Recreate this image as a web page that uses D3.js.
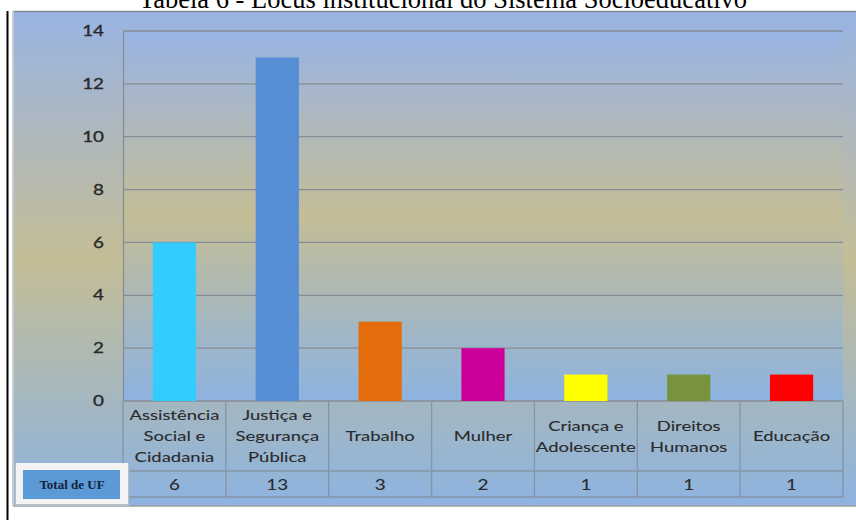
<!DOCTYPE html>
<html><head><meta charset="utf-8">
<script src="https://cdn.jsdelivr.net/npm/d3@7"></script>
<style>body{margin:0;background:#fff;}svg{display:block;}</style>
</head><body>
<script>
const title = "Tabela 6 - Locus institucional do Sistema Socioeducativo";
const categories = ["Assistência Social e Cidadania","Justiça e Segurança Pública","Trabalho","Mulher","Criança e Adolescente","Direitos Humanos","Educação"];
const labelLines = [["Assistência","Social e","Cidadania"],["Justiça e","Segurança","Pública"],["Trabalho"],["Mulher"],["Criança e","Adolescente"],["Direitos","Humanos"],["Educação"]];
const values = [6,13,3,2,1,1,1];
const colors = ["#33ccff","#558ed5","#e46c0a","#cc0099","#ffff00","#77933c","#ff0000"];
const yTicks = [0,2,4,6,8,10,12,14];
const rowLabel = "Total de UF";

(function(){
const W=856,H=520;
const svg=d3.select("body").append("svg").attr("width",W).attr("height",H);
const defs=svg.append("defs");
function grad(id){
  const g=defs.append("linearGradient").attr("id",id).attr("x1",0).attr("y1",0).attr("x2",0).attr("y2",1);
  g.append("stop").attr("offset","0%").attr("stop-color","#99b4e3");
  g.append("stop").attr("offset","50%").attr("stop-color","#c4bd96");
  g.append("stop").attr("offset","100%").attr("stop-color","#8db3e0");
}
grad("gOuter");grad("gPlot");

svg.append("text").attr("x",443).attr("y",8).attr("text-anchor","middle")
  .attr("font-family","Liberation Serif, Times New Roman, serif").attr("font-size",26.5).attr("fill","#000").text(title);

svg.append("line").attr("x1",7.5).attr("x2",7.5).attr("y1",11).attr("y2",520).attr("stroke","#000").attr("stroke-width",2);
svg.append("rect").attr("x",13).attr("y",11).attr("width",850).attr("height",495).attr("fill","url(#gOuter)");
svg.append("line").attr("x1",13).attr("x2",856).attr("y1",11.5).attr("y2",11.5).attr("stroke","#7f8790").attr("stroke-width",1.5);
svg.append("line").attr("x1",13).attr("x2",856).attr("y1",506).attr("y2",506).attr("stroke","#9a9ea4").attr("stroke-width",1.5);
svg.append("line").attr("x1",13).attr("x2",13).attr("y1",11).attr("y2",506).attr("stroke","#c8ccd2").attr("stroke-width",2);

const pL=123,pR=843,pT=31,pB=401;
const x=d3.scaleBand().domain(categories).range([pL,pR]).paddingInner(0).paddingOuter(0);
const y=d3.scaleLinear().domain([0,14]).range([pB,pT]);

svg.append("rect").attr("x",pL).attr("y",pT).attr("width",pR-pL).attr("height",pB-pT).attr("fill","url(#gPlot)");

svg.append("g").selectAll("line").data(yTicks).join("line")
  .attr("x1",pL).attr("x2",pR).attr("y1",d=>y(d)).attr("y2",d=>y(d))
  .attr("stroke","#878d95").attr("stroke-width",1.3);

const bw=x.bandwidth()*0.42;
svg.append("g").selectAll("rect").data(values).join("rect")
  .attr("x",(d,i)=>x(categories[i])+(x.bandwidth()-bw)/2)
  .attr("y",d=>y(d)).attr("width",bw).attr("height",d=>pB-y(d))
  .attr("fill",(d,i)=>colors[i]);

const font="Lato, Open Sans, sans-serif";
const ysx=1.3;
const yAxis=svg.append("g").attr("transform",`translate(${pL},0)`).call(d3.axisLeft(y).tickValues(yTicks).tickSize(0).tickPadding(19));
yAxis.select(".domain").attr("stroke","#878d95").attr("stroke-width",1.3);
yAxis.selectAll("text").attr("font-family",font).attr("font-size",14.5).attr("font-weight","normal").attr("fill","#2a2a2a")
  .attr("stroke","#2a2a2a").attr("stroke-width",0.35)
  .attr("x",-19/ysx).attr("transform",`scale(${ysx},1)`);

const tableBottom=497, rowSplit=471;
const tg=svg.append("g");
const edges=categories.map(c=>x(c)).concat([pR]);
tg.selectAll("line.v").data(edges).join("line").attr("class","v")
  .attr("x1",d=>d).attr("x2",d=>d).attr("y1",pB).attr("y2",tableBottom)
  .attr("stroke","#8594a6").attr("stroke-width",1.3);
tg.selectAll("line.h").data([rowSplit,tableBottom]).join("line").attr("class","h")
  .attr("x1",pL).attr("x2",pR).attr("y1",d=>d).attr("y2",d=>d)
  .attr("stroke","#8594a6").attr("stroke-width",1.3);

const sx=1.3;
categories.forEach((c,i)=>{
  const cx=x(c)+x.bandwidth()/2;
  const lines=labelLines[i];
  const lh=21, mid=436;
  lines.forEach((t,j)=>{
    const yy=mid+(j-(lines.length-1)/2)*lh+5;
    svg.append("text").attr("transform",`translate(${cx},${yy}) scale(${sx},1)`)
      .attr("text-anchor","middle").attr("font-family",font).attr("font-size",14.2).attr("fill","#2a2a2a")
      .attr("stroke","#2a2a2a").attr("stroke-width",0.1).text(t);
  });
  svg.append("text").attr("transform",`translate(${cx},${489.5}) scale(${sx},1)`)
    .attr("text-anchor","middle").attr("font-family",font).attr("font-size",14.5).attr("fill","#2a2a2a")
    .attr("stroke","#2a2a2a").attr("stroke-width",0.1).text(values[i]);
});

svg.append("rect").attr("x",15).attr("y",464).attr("width",114).attr("height",42).attr("fill","#b9bfc8");
svg.append("rect").attr("x",16).attr("y",463).attr("width",112).attr("height",41).attr("fill","#f3f3f3");
svg.append("rect").attr("x",23).attr("y",470).attr("width",97).attr("height",29).attr("fill","#5b9ad6");
svg.append("text").attr("x",72).attr("y",489).attr("text-anchor","middle")
  .attr("font-family","Liberation Serif, Times New Roman, serif").attr("font-weight","bold").attr("font-size",13).attr("fill","#16213a").text(rowLabel);
})();
</script>
</body></html>
